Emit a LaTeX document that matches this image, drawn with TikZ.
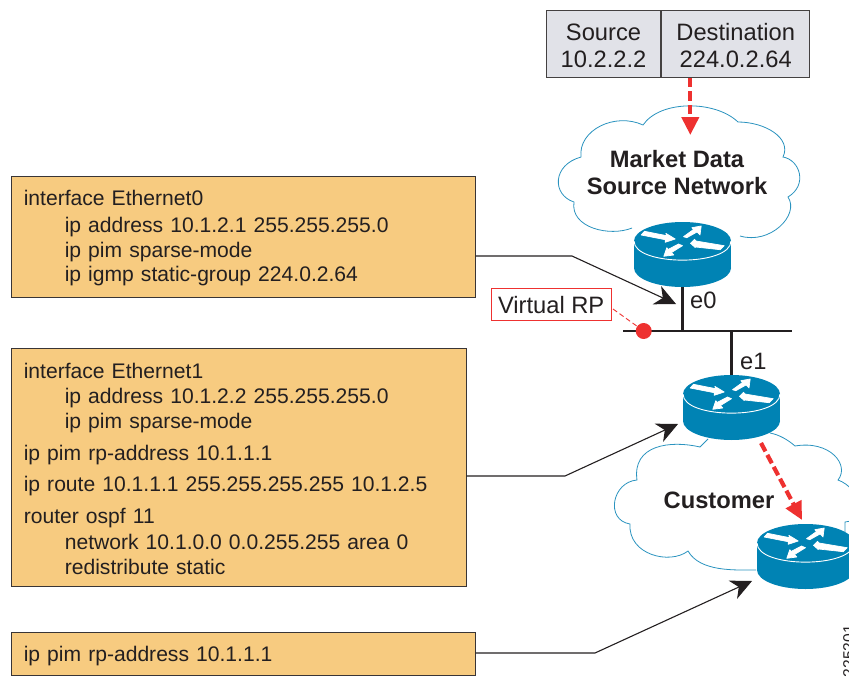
\documentclass[tikz,border=0pt]{standalone}
\usepackage{fontspec}
\setmainfont{Liberation Sans}
\usetikzlibrary{arrows.meta,calc}
\definecolor{ink}{HTML}{231F20}
\definecolor{boxfill}{HTML}{F7CB80}
\definecolor{pktfill}{HTML}{E1E2E8}
\definecolor{alert}{HTML}{EE3130}
\definecolor{rblue}{HTML}{0083B4}
\definecolor{cloudline}{HTML}{2A93BF}
\newcommand{\bodyfont}{\fontsize{21.1}{24.3}\selectfont}
\newcommand{\labelfont}{\fontsize{23.7}{27}\selectfont}
\newcommand{\ind}{\hspace*{41pt}}
\newcommand{\lift}[1]{\rule{0pt}{#1pt}}
\tikzset{
  x=1pt,y=-1pt,
  cfgbox/.style={draw=ink!90,line width=1pt,fill=boxfill,anchor=north west,inner xsep=12.8pt,inner ysep=0pt,align=left,font=\bodyfont,text=ink},
  pktbox/.style={draw=ink!85,line width=1pt,fill=pktfill,inner sep=0pt,minimum height=66.6pt,align=center,font=\labelfont,text=ink},
  cloudpath/.style={draw=cloudline,line width=0.8pt},
  lbl/.style={font=\labelfont,text=ink,inner sep=0pt},
  boldlbl/.style={font=\labelfont\bfseries,text=ink,inner sep=0pt,align=center},
  callout/.style={draw=ink,line width=1.1pt,-{Stealth[length=21pt,width=20pt,inset=6.5pt]}},
  flow/.style={draw=alert,line width=4.2pt,dash pattern=on 9.5pt off 4pt,-{Triangle[length=18pt,width=17pt]}},
  wire/.style={draw=ink,line width=2.6pt},
  rarrow/.style={fill=white,draw=white,line width=0.7pt,line join=round},
  router/.pic={
    \fill[rblue] (0,0) ellipse [x radius=48.5pt,y radius=19pt];
    \fill[rblue] (-48.5,0) rectangle (48.5,27);
    \fill[rblue] (0,27) ellipse [x radius=48.5pt,y radius=19pt];
    \draw[white,line width=0.9pt] (-48.5,0) .. controls (-48.5,25.5) and (48.5,25.5) .. (48.5,0);
    \path[rarrow] (-41.3,-6) -- (-38,-9.7) -- (-15.7,-5.3) -- (-16.7,-7.7) -- (-7.3,-2) -- (-17.3,1.3) -- (-17.3,-1.3) -- cycle;
    \path[rarrow] (18.7,-15) -- (9.3,-13.3) -- (11,-11.5) -- (1,-4.3) -- (4.3,-3.3) -- (14.5,-9) -- (17.5,-6) -- cycle;
    \path[rarrow] (8,2.3) -- (12,-1.7) -- (13.5,0) -- (41.7,4.7) -- (37.7,8.7) -- (13,6) -- (12.7,6.5) -- cycle;
    \path[rarrow] (-18.7,15.3) -- (-8.7,14) -- (-11,11.5) -- (0,4.7) -- (-4,3) -- (-14.5,8.5) -- (-15.7,6.7) -- cycle;
    \coordinate (-top) at (0,-19);
    \coordinate (-bot) at (0,46);
  }
}
\begin{document}
\begin{tikzpicture}
\useasboundingbox (0,0) rectangle (849,677);
\clip (0,0) rectangle (849,677);
% clouds
\draw[cloudpath,fill=white] (632,228) .. controls (610,237) and (570,228) .. (574,202)
  .. controls (552,195) and (552,165) .. (581,157)
  .. controls (578,130) and (615,112) .. (643,125)
  .. controls (660,100) and (715,100) .. (738,122)
  .. controls (765,122) and (792,138) .. (783,157)
  .. controls (800,160) and (808,185) .. (788,197)
  .. controls (800,215) and (770,245) .. (740,236);
\draw[cloudpath] (708,439) -- (700,447) .. controls (670,440) and (632,445) .. (637,480)
  .. controls (612,482) and (605,520) .. (630,524)
  .. controls (628,555) and (670,565) .. (688,551)
  .. controls (700,572) and (735,570) .. (756,570);
\draw[cloudpath] (770,433) .. controls (780,435) and (788,440) .. (795,446)
  .. controls (830,440) and (850,465) .. (838,480)
  .. controls (860,488) and (870,520) .. (845,522) -- (845,532);
% boxes
\node[cfgbox,text width=438.4pt,minimum height=121.3pt] (box1) at (10.5,175.7)
 {\lift{18}interface Ethernet0\\[2.5pt]\ind ip address 10.1.2.1 255.255.255.0\\\ind ip pim sparse-mode\\\ind ip igmp static-group 224.0.2.64};
\node[cfgbox,text width=429.6pt,minimum height=237.7pt] (box2) at (10.5,348)
 {\lift{18}interface Ethernet1\\[1pt]\ind ip address 10.1.2.2 255.255.255.0\\[1pt]\ind ip pim sparse-mode\\[7.5pt]ip pim rp-address 10.1.1.1\\[7pt]ip route 10.1.1.1 255.255.255.255 10.1.2.5\\[7pt]router ospf 11\\[2.5pt]\ind network 10.1.0.0 0.0.255.255 area 0\\\ind redistribute static};
\node[cfgbox,text width=438.4pt,minimum height=43pt] (box3) at (10.5,631.7)
 {\lift{19}ip pim rp-address 10.1.1.1};
% packet table
\node[pktbox,minimum width=114.4pt] (src) at (603.5,44) {\lift{20}Source\\10.2.2.2};
\node[pktbox,minimum width=148pt,anchor=west] (dst) at (src.east) {\lift{20}Destination\\224.0.2.64};
% routers
\pic (r1) at (682.5,241) {router};
\pic (r2) at (731.5,394) {router};
\pic (r3) at (805.5,543) {router};
% network
\coordinate (busL) at (623,331);
\coordinate (busR) at (792,331);
\draw[wire] (busL) -- (busR);
\draw[wire] (r1-bot) -- (r1-bot |- busL);
\draw[wire] (r2-top) -- (r2-top |- busL);
\node[lbl,anchor=base west] (e0) at (690,308.5) {e0};
\node[lbl,anchor=base west] (e1) at (740,369) {e1};
\node[circle,fill=alert,minimum size=16pt,inner sep=0pt] (rp) at (643.7,331) {};
\node[draw=alert,line width=1pt,fill=white,minimum width=120.3pt,minimum height=32pt,inner sep=0pt,font=\labelfont,text=ink] (vrp) at (551.2,304.7) {\lift{18}Virtual RP};
\coordinate (vrpend) at (613,309);
\draw[alert,line width=0.9pt,dash pattern=on 5pt off 3pt] (vrpend) -- (rp);
% cloud labels
\node[boldlbl,anchor=base] (mkt1) at (677,167) {Market Data};
\node[boldlbl,anchor=base] (mkt2) at (677,194) {Source Network};
\node[boldlbl,anchor=base] (cust) at (719,508) {Customer};
% red flows
\coordinate (tipA) at (690.3,135);
\coordinate (startB) at (761,443);
\coordinate (tipB) at (802,520);
\draw[flow] (dst.south -| tipA) -- (tipA);
\draw[flow] (startB) -- (tipB);
% callouts
\coordinate (k1) at (572,256);
\coordinate (t1) at (676,304);
\coordinate (k2) at (565,476);
\coordinate (t2) at (678,424);
\coordinate (k3) at (595,653);
\coordinate (t3) at (752,581);
\draw[callout] (box1.east |- k1) -- (k1) -- (t1);
\draw[callout] (box2.east |- k2) -- (k2) -- (t2);
\draw[callout] (box3.east |- k3) -- (k3) -- (t3);
% figure id
\node[font=\fontsize{15.6}{16}\selectfont,text=ink,rotate=90,anchor=base east,inner sep=0pt] (figid) at (854,625) {225201};
\end{tikzpicture}
\end{document}
